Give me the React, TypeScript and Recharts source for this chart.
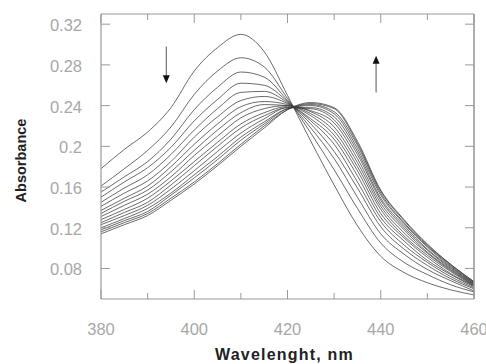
import { LineChart, Line, XAxis, YAxis, Label, ReferenceLine, ReferenceDot } from 'recharts';

// wavelength grid, nm
const wavelengths = [380, 385, 390, 395, 400, 405, 410, 415, 420, 425, 430, 435, 440, 445, 450, 455, 460];

// absorbance spectra, first scan (top at 410 nm) to last scan
const scan01 = [0.178, 0.197, 0.214, 0.238, 0.274, 0.297, 0.310, 0.293, 0.250, 0.205, 0.162, 0.122, 0.092, 0.076, 0.066, 0.059, 0.054];
const scan02 = [0.161, 0.178, 0.196, 0.219, 0.251, 0.274, 0.287, 0.278, 0.247, 0.213, 0.177, 0.139, 0.105, 0.086, 0.074, 0.064, 0.057];
const scan03 = [0.155, 0.170, 0.185, 0.207, 0.236, 0.258, 0.273, 0.268, 0.245, 0.218, 0.188, 0.150, 0.114, 0.094, 0.079, 0.068, 0.058];
const scan04 = [0.150, 0.165, 0.179, 0.199, 0.225, 0.246, 0.262, 0.260, 0.244, 0.222, 0.195, 0.159, 0.121, 0.099, 0.083, 0.070, 0.060];
const scan05 = [0.145, 0.159, 0.172, 0.192, 0.216, 0.237, 0.253, 0.254, 0.243, 0.225, 0.202, 0.165, 0.126, 0.103, 0.086, 0.072, 0.061];
const scan06 = [0.141, 0.154, 0.166, 0.185, 0.209, 0.229, 0.245, 0.249, 0.242, 0.227, 0.207, 0.171, 0.130, 0.107, 0.088, 0.074, 0.062];
const scan07 = [0.137, 0.149, 0.161, 0.180, 0.202, 0.222, 0.239, 0.244, 0.241, 0.230, 0.211, 0.176, 0.134, 0.110, 0.091, 0.075, 0.063];
const scan08 = [0.134, 0.146, 0.157, 0.175, 0.196, 0.216, 0.233, 0.241, 0.240, 0.232, 0.215, 0.180, 0.138, 0.112, 0.093, 0.077, 0.063];
const scan09 = [0.131, 0.142, 0.153, 0.170, 0.191, 0.210, 0.228, 0.237, 0.240, 0.234, 0.219, 0.184, 0.141, 0.115, 0.095, 0.078, 0.064];
const scan10 = [0.128, 0.138, 0.149, 0.166, 0.185, 0.204, 0.222, 0.233, 0.239, 0.235, 0.223, 0.188, 0.144, 0.118, 0.096, 0.079, 0.064];
const scan11 = [0.125, 0.135, 0.145, 0.162, 0.181, 0.200, 0.218, 0.230, 0.238, 0.237, 0.226, 0.192, 0.147, 0.120, 0.098, 0.080, 0.065];
const scan12 = [0.123, 0.132, 0.142, 0.158, 0.176, 0.195, 0.213, 0.227, 0.238, 0.238, 0.229, 0.195, 0.149, 0.122, 0.099, 0.081, 0.065];
const scan13 = [0.120, 0.129, 0.139, 0.154, 0.172, 0.190, 0.209, 0.224, 0.237, 0.240, 0.232, 0.198, 0.152, 0.124, 0.101, 0.082, 0.066];
const scan14 = [0.118, 0.127, 0.136, 0.152, 0.169, 0.187, 0.206, 0.222, 0.237, 0.241, 0.234, 0.201, 0.154, 0.125, 0.102, 0.083, 0.066];
const scan15 = [0.116, 0.125, 0.134, 0.149, 0.165, 0.183, 0.202, 0.220, 0.236, 0.242, 0.237, 0.203, 0.156, 0.127, 0.103, 0.084, 0.067];
const scan16 = [0.114, 0.123, 0.132, 0.147, 0.163, 0.181, 0.200, 0.218, 0.236, 0.243, 0.238, 0.205, 0.157, 0.128, 0.104, 0.084, 0.067];

const scans = [scan01, scan02, scan03, scan04, scan05, scan06, scan07, scan08, scan09, scan10, scan11, scan12, scan13, scan14, scan15, scan16];

// axis ticks (major ones get labels)
const xTicks = [380, 390, 400, 410, 420, 430, 440, 450, 460];
const yTicks = [0.06, 0.08, 0.1, 0.12, 0.14, 0.16, 0.18, 0.2, 0.22, 0.24, 0.26, 0.28, 0.3, 0.32];

const data = wavelengths.map((w, i) => {
    const row: any = { nm: w };
    scans.forEach((s, k) => { row['s' + k] = s[i]; });
    return row;
});

const FONT = '"Liberation Sans", Arial, sans-serif';
const FRAME = '#9a9a9a';
const TICK_TEXT = '#a8a8a8';

const isMajorX = (v: number) => v % 20 === 0;
const isMajorY = (v: number) => Math.round(v * 100) % 4 === 0;

const BottomTick = (props: any) => {
    const { x, y, payload } = props;
    const major = isMajorX(payload.value);
    return (
        <g>
            <line x1={x} x2={x} y1={y} y2={y - (major ? 9 : 6)} stroke={FRAME} />
            {major && <text x={x} y={y + 36} textAnchor="middle" fill={TICK_TEXT} fontSize={16.5} fontFamily={FONT}>{payload.value}</text>}
        </g>
    );
};

const TopTick = (props: any) => {
    const { x, y, payload } = props;
    const major = isMajorX(payload.value);
    return <line x1={x} x2={x} y1={y} y2={y + (major ? 9 : 6)} stroke={FRAME} />;
};

const LeftTick = (props: any) => {
    const { x, y, payload } = props;
    const major = isMajorY(payload.value);
    return (
        <g>
            <line x1={x} x2={x + (major ? 9 : 6)} y1={y} y2={y} stroke={FRAME} />
            {major && <text x={x - 19} y={y + 7} textAnchor="end" fill={TICK_TEXT} fontSize={16.5} fontFamily={FONT}>{String(Number(payload.value.toFixed(2)))}</text>}
        </g>
    );
};

const RightTick = (props: any) => {
    const { x, y, payload } = props;
    const major = isMajorY(payload.value);
    return <line x1={x} x2={x - (major ? 9 : 6)} y1={y} y2={y} stroke={FRAME} />;
};

const arrowHead = (down: boolean) => (props: any) => {
    const { cx, cy } = props;
    const d = down ? 1 : -1;
    return <polygon points={`${cx - 3.5},${cy - 8 * d} ${cx + 3.5},${cy - 8 * d} ${cx},${cy}`} fill="#111" />;
};

const App = () => {
    return (
        <div style={{ position: 'absolute', left: 0, top: 0 }}>
            <LineChart width={486} height={364} data={data} margin={{ top: 13, right: 11, bottom: 0, left: 0 }}>
                <XAxis dataKey="nm" type="number" domain={[380, 460]} ticks={xTicks} allowDataOverflow
                    height={65} tickSize={0} tickMargin={0} tickLine={false} tick={<BottomTick />}
                    axisLine={{ stroke: FRAME, strokeWidth: 1.2 }}>
                    <Label content={(p: any) => (
                        <text x={p.viewBox.x + p.viewBox.width / 2 - 3} y={p.viewBox.y + 61} textAnchor="middle"
                            fontSize={16} fontWeight="bold" letterSpacing={1.2} fontFamily={FONT} fill="#222">Wavelenght, nm</text>
                    )} />
                </XAxis>
                <XAxis xAxisId="top" orientation="top" dataKey="nm" type="number" domain={[380, 460]} ticks={xTicks}
                    allowDataOverflow height={1} tickSize={0} tickMargin={0} tickLine={false} tick={<TopTick />}
                    axisLine={{ stroke: FRAME, strokeWidth: 1.2 }} />
                <YAxis type="number" domain={[0.05, 0.33]} ticks={yTicks} allowDataOverflow width={101}
                    tickSize={0} tickMargin={0} tickLine={false} tick={<LeftTick />}
                    axisLine={{ stroke: FRAME, strokeWidth: 1.2 }}>
                    <Label content={(p: any) => {
                        const cx = 21;
                        const cy = p.viewBox.y + p.viewBox.height / 2 + 4;
                        return (
                            <text x={cx} y={cy} transform={`rotate(-90 ${cx} ${cy})`} textAnchor="middle" dominantBaseline="central"
                                fontSize={14.5} fontWeight="bold" fontFamily={FONT} fill="#222">Absorbance</text>
                        );
                    }} />
                </YAxis>
                <YAxis yAxisId="right" orientation="right" type="number" domain={[0.05, 0.33]} ticks={yTicks}
                    allowDataOverflow width={1} tickSize={0} tickMargin={0} tickLine={false} tick={<RightTick />}
                    axisLine={{ stroke: FRAME, strokeWidth: 1.6 }} />
                {scans.map((_, k) => (
                    <Line key={k} dataKey={'s' + k} type="monotone" stroke="#3a3a3a" strokeWidth={0.75}
                        xAxisId={k === scans.length - 1 ? 'top' : 0} yAxisId={k === scans.length - 1 ? 'right' : 0}
                        dot={false} activeDot={false} isAnimationActive={false} />
                ))}
                <ReferenceLine segment={[{ x: 394, y: 0.298 }, { x: 394, y: 0.268 }]} stroke="#555" strokeWidth={1} />
                <ReferenceDot x={394} y={0.262} r={0} shape={arrowHead(true)} />
                <ReferenceLine segment={[{ x: 439, y: 0.253 }, { x: 439, y: 0.282 }]} stroke="#555" strokeWidth={1} />
                <ReferenceDot x={439} y={0.289} r={0} shape={arrowHead(false)} />
            </LineChart>
        </div>
    );
};

export default App;
